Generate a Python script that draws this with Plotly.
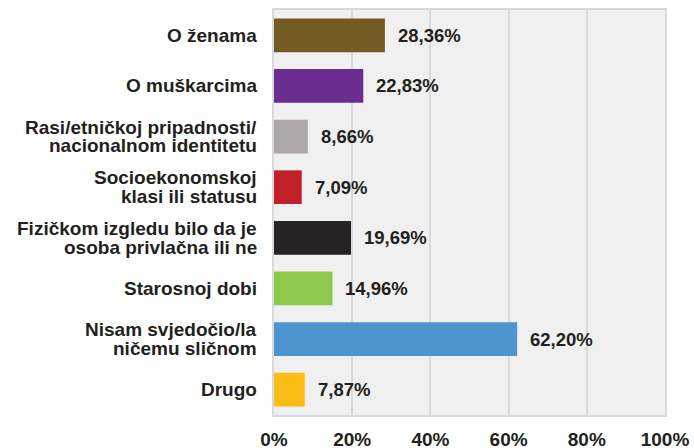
import plotly.graph_objects as go

# categories top to bottom
categories = [
    "O ženama",
    "O muškarcima",
    "Rasi/etničkoj pripadnosti/<br>nacionalnom identitetu",
    "Socioekonomskoj<br>klasi ili statusu",
    "Fizičkom izgledu bilo da je<br>osoba privlačna ili ne",
    "Starosnoj dobi",
    "Nisam svjedočio/la<br>ničemu sličnom",
    "Drugo",
]
values = [28.36, 22.83, 8.66, 7.09, 19.69, 14.96, 62.20, 7.87]
colors = ["#765a24", "#6a2c8f", "#aca8a7", "#c0202a", "#272324", "#8dc84b", "#4e95d0", "#f9bd16"]
x_ticks = [0, 20, 40, 60, 80, 100]
x_labels = ["0%", "20%", "40%", "60%", "80%", "100%"]

font_col = "#231f20"
fnt = "Liberation Sans, Arial, sans-serif"

fig = go.Figure(go.Bar(
    x=values, y=categories, orientation="h",
    marker=dict(color=colors, line_width=0),
    hoverinfo="skip",
))

# value labels to the right of the bars
for v, c in zip(values, categories):
    fig.add_annotation(x=v, y=c, text=f"{v:.2f}%".replace(".", ","),
                       showarrow=False, xanchor="left", xshift=11,
                       font=dict(family=fnt, size=18.5, color=font_col, weight="bold"))

# category labels, drawn line by line so the line spacing stays tight
line_gap = 18.4
for c in categories:
    lines = c.split("<br>")
    n = len(lines)
    for i, ln in enumerate(lines):
        fig.add_annotation(x=0, xref="paper", y=c, text=ln, showarrow=False,
                           xanchor="right", xshift=-15,
                           yshift=((n - 1) / 2 - i) * line_gap,
                           font=dict(family=fnt, size=19, color=font_col, weight="bold"))

fig.update_layout(
    width=694, height=448,
    margin=dict(l=274, r=29, t=10, b=33),
    paper_bgcolor="white", plot_bgcolor="#f0f0f0",
    bargap=0.335, showlegend=False,
    font=dict(family=fnt, size=19, color=font_col, weight="bold"),
)
fig.update_xaxes(
    range=[0, 100], tickvals=x_ticks, ticktext=x_labels,
    showgrid=True, gridcolor="#d9d9d9", gridwidth=2, zeroline=False,
    showline=True, linecolor="#d9d9d9", linewidth=2, mirror=True,
    tickfont=dict(family=fnt, size=19, color=font_col, weight="bold"),
    ticklabelstandoff=6, automargin=False, fixedrange=True,
)
fig.update_yaxes(
    autorange="reversed", showgrid=False, zeroline=False,
    showline=True, linecolor="#d9d9d9", linewidth=2, mirror=True,
    showticklabels=False, automargin=False, fixedrange=True,
)

# page has a default 8px body margin; drop it so the figure sits at 0,0
fig.write_html("out.html", config={"displayModeBar": False},
               post_script="document.body.style.margin='0';")
